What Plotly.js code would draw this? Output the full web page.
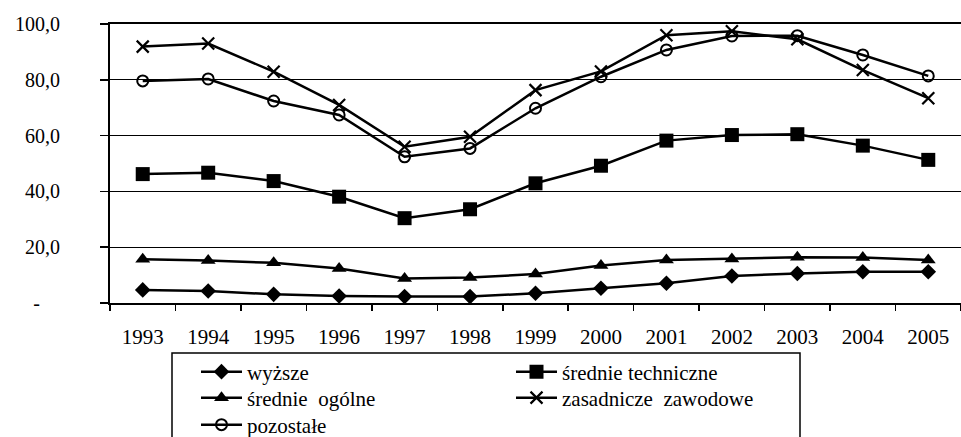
<!DOCTYPE html>
<html>
<head>
<meta charset="utf-8">
<script src="https://cdn.plot.ly/plotly-3.0.1.min.js"></script>
<style>
html,body{margin:0;padding:0;background:#fff;}
#chart{width:961px;height:437px;}
</style>
</head>
<body>
<div id="chart"></div>
<script>
const years = ['1993','1994','1995','1996','1997','1998','1999','2000','2001','2002','2003','2004','2005'];
const wyzsze = [4.7,4.3,3.1,2.5,2.3,2.3,3.5,5.3,7.1,9.7,10.6,11.2,11.2];
const srednieTechniczne = [46.2,46.7,43.7,38.1,30.4,33.6,42.9,49.2,58.2,60.2,60.5,56.4,51.3];
const srednieOgolne = [15.7,15.2,14.4,12.4,8.8,9.1,10.4,13.4,15.4,15.8,16.4,16.3,15.4];
const zasadniczeZawodowe = [91.9,93.0,82.9,71.0,56.0,59.6,76.3,83.0,96.0,97.4,94.5,83.5,73.4];
const pozostale = [79.6,80.3,72.4,67.4,52.4,55.4,69.8,81.1,90.7,95.7,95.8,88.9,81.4];
const yTickVals = [0,20,40,60,80,100];
const yTickText = ['-\u00a0\u00a0\u00a0\u00a0','20,0','40,0','60,0','80,0','100,0'];

const FONT = 'Liberation Serif';
const lineStyle = {color:'#000', width:2.5};

const traces = [
  {name:'wyższe', x:years, y:wyzsze, mode:'lines+markers', line:lineStyle,
   marker:{symbol:'diamond', size:12, color:'#000'}, legend:'legend'},
  {name:'średnie techniczne', x:years, y:srednieTechniczne, mode:'lines+markers', line:lineStyle,
   marker:{symbol:'square', size:14, color:'#000'}, legend:'legend2'},
  {name:'średnie  ogólne', x:years, y:srednieOgolne, mode:'lines+markers', line:lineStyle,
   marker:{symbol:'triangle-up', size:13, color:'#000'}, legend:'legend3'},
  {name:'zasadnicze  zawodowe', x:years, y:zasadniczeZawodowe, mode:'lines+markers', line:lineStyle,
   marker:{symbol:'x-thin-open', size:12, color:'#000', line:{color:'#000', width:2.2}}, legend:'legend4'},
  {name:'pozostałe', x:years, y:pozostale, mode:'lines+markers', line:lineStyle,
   marker:{symbol:'circle-open', size:11, color:'#000', line:{color:'#000', width:2}}, legend:'legend5'}
];

const W = 851, PH = 279;
const px = v => (v - 110) / W;
const py = v => (303 - v) / PH;

function leg(xp, yp) {
  return {x:px(xp), y:py(yp), xanchor:'left', yanchor:'middle', orientation:'v',
    bgcolor:'rgba(0,0,0,0)', borderwidth:0, itemwidth:41, font:{family:FONT, size:21, color:'#000'}};
}

const layout = {
  width:961, height:437,
  margin:{l:110, r:0, t:24, b:134, autoexpand:false},
  paper_bgcolor:'#fff', plot_bgcolor:'#fff',
  font:{family:FONT, color:'#000', size:20},
  showlegend:true,
  xaxis:{
    type:'category', range:[-0.5,12.5], showline:true, linecolor:'#000', linewidth:2, mirror:true,
    ticks:'outside', ticklen:6, tickwidth:1.5, tickcolor:'#000', tickson:'boundaries',
    showgrid:false, zeroline:false, tickfont:{family:FONT, size:21, color:'#000'}, ticklabelstandoff:14
  },
  yaxis:{
    range:[0,100], tickvals:yTickVals, ticktext:yTickText, showline:true, linecolor:'#000', linewidth:2, mirror:true,
    ticks:'outside', ticklen:8, tickwidth:1.5, tickcolor:'#000',
    showgrid:true, gridcolor:'#000', gridwidth:1, zeroline:false,
    tickfont:{family:FONT, size:20, color:'#000'}, ticklabelstandoff:36
  },
  legend:leg(196, 372),
  legend2:leg(511, 372),
  legend3:leg(196, 398),
  legend4:leg(511, 398),
  legend5:leg(196, 425),
  shapes:[{type:'rect', xref:'paper', yref:'paper', x0:px(172), x1:px(800), y0:py(353), y1:py(450),
    line:{color:'#000', width:1.5}, fillcolor:'rgba(0,0,0,0)', layer:'above'}]
};

Plotly.newPlot('chart', traces, layout, {displayModeBar:false, staticPlot:true});
</script>
</body>
</html>
